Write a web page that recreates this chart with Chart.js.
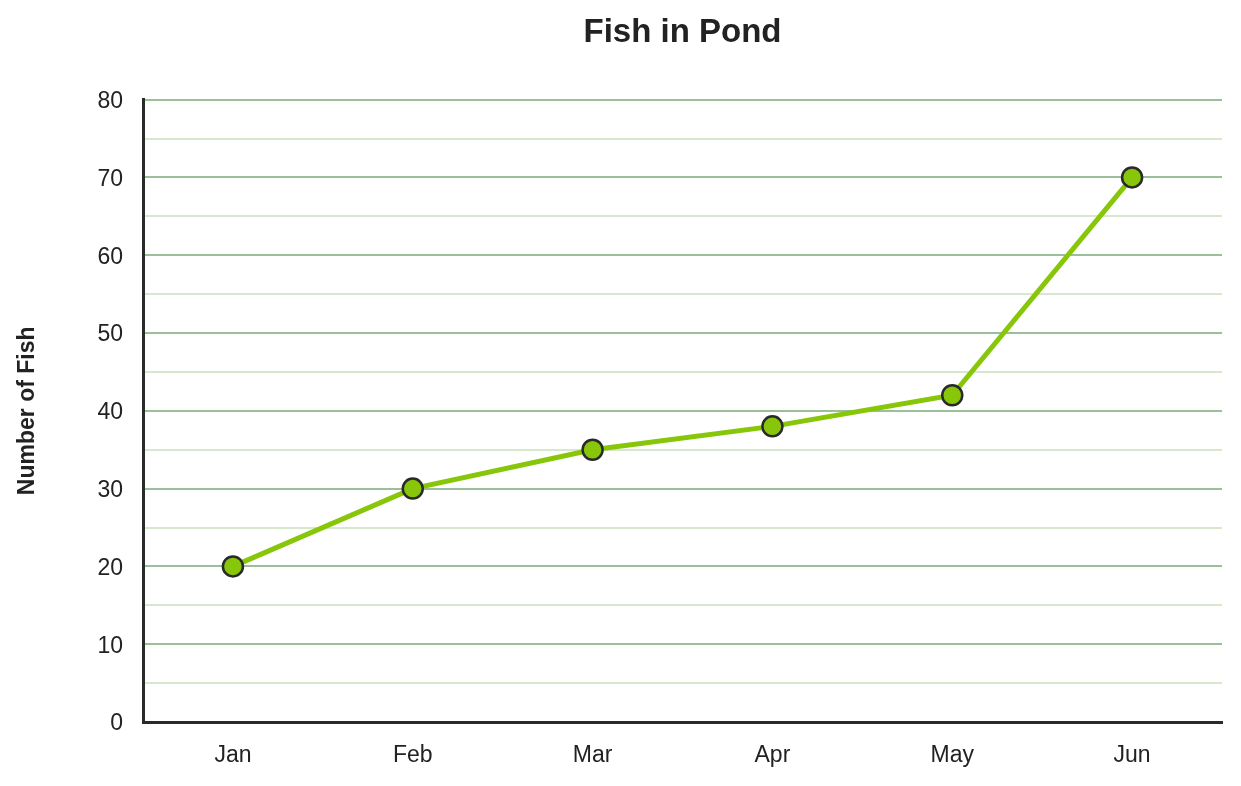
<!DOCTYPE html>
<html>
<head>
<meta charset="utf-8">
<title>Fish in Pond</title>
<script src="https://cdn.jsdelivr.net/npm/chart.js@4/dist/chart.umd.min.js"></script>
<style>
    html, body { margin: 0; padding: 0; background: #fff; }
    #wrap { width: 1241px; height: 786px; position: relative; }
</style>
</head>
<body>
<div id="wrap"><canvas id="fishChart"></canvas></div>
<script>
// Chart data
const months = ['Jan', 'Feb', 'Mar', 'Apr', 'May', 'Jun'];
const fishCounts = [20, 30, 35, 38, 42, 70];
const yTicks = [0, 10, 20, 30, 40, 50, 60, 70, 80];

const FONT = "'Liberation Sans', Arial, sans-serif";

document.addEventListener("DOMContentLoaded", function() {
    const ctx = document.getElementById('fishChart').getContext('2d');
    new Chart(ctx, {
        type: 'line',
        data: {
            labels: months,
            datasets: [{
                label: 'Number of Fish',
                data: fishCounts,
                borderColor: '#88c60a',
                borderWidth: 5,
                backgroundColor: '#88c60a',
                pointBackgroundColor: '#88c60a',
                pointBorderColor: '#2a2a2a',
                pointBorderWidth: 2.5,
                pointRadius: 10,
                pointHoverRadius: 10,
                tension: 0
            }]
        },
        options: {
            responsive: true,
            maintainAspectRatio: false,
            animation: false,
            layout: { padding: { left: 0, right: 19, top: 0, bottom: 0 } },
            plugins: {
                legend: { display: false },
                tooltip: { enabled: false },
                title: {
                    display: true,
                    fullSize: false,
                    text: 'Fish in Pond',
                    color: '#222',
                    font: { family: FONT, size: 33, weight: 'bold' },
                    padding: { top: 13, bottom: 47 }
                }
            },
            scales: {
                x: {
                    offset: true,
                    grid: { display: false, drawTicks: false },
                    border: { display: true, color: '#2a2a2a', width: 3 },
                    ticks: {
                        color: '#222',
                        font: { family: FONT, size: 23 },
                        padding: 20
                    },
                    afterFit: function(scale) { scale.height = 64; }
                },
                y: {
                    min: yTicks[0],
                    max: yTicks[yTicks.length - 1],
                    ticks: {
                        stepSize: 5,
                        color: '#222',
                        font: { family: FONT, size: 23 },
                        padding: 20,
                        labelOffset: 2,
                        callback: function(value) {
                            return yTicks.includes(value) ? value : '';
                        }
                    },
                    grid: {
                        drawTicks: false,
                        lineWidth: 2,
                        color: function(c) {
                            return c.tick && yTicks.includes(c.tick.value) ? '#9bbf9b' : '#d6e8cd';
                        }
                    },
                    border: { display: true, color: '#2a2a2a', width: 3 },
                    title: {
                        display: true,
                        text: 'Number of Fish',
                        color: '#222',
                        font: { family: FONT, size: 23, weight: 'bold' },
                        padding: { top: 14, bottom: 0 }
                    },
                    afterFit: function(scale) { scale.width = 143; }
                }
            }
        }
    });
});
</script>
</body>
</html>
